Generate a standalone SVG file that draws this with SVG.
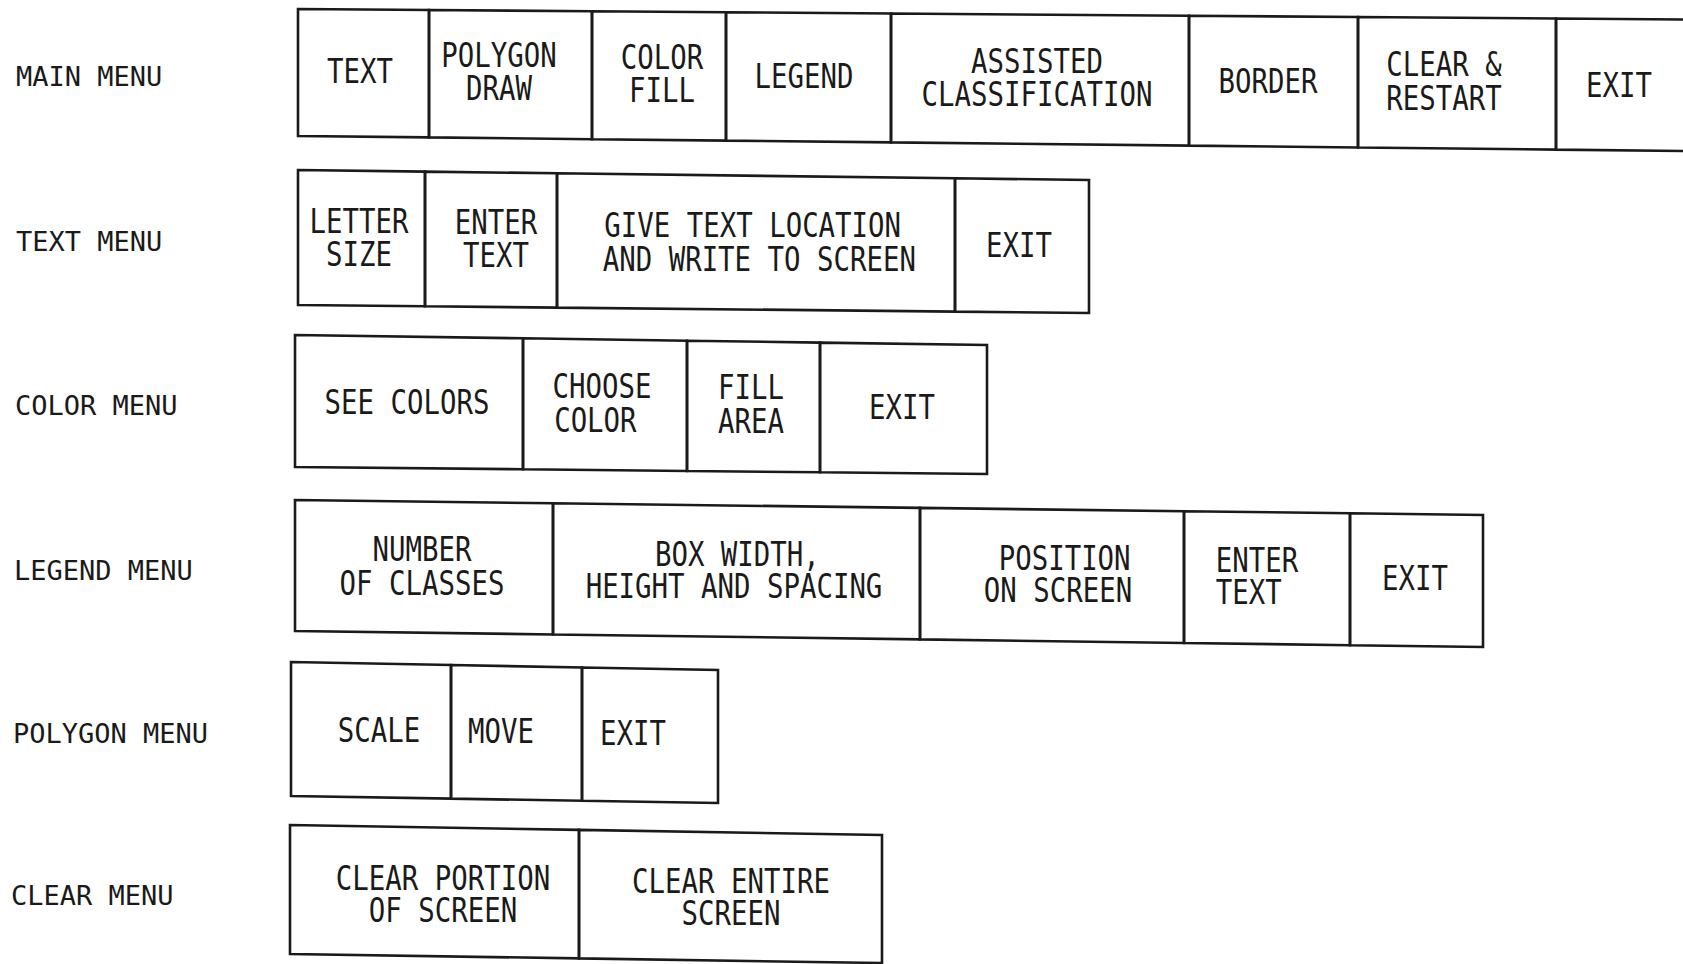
<svg xmlns="http://www.w3.org/2000/svg" width="1683" height="964" viewBox="0 0 1683 964">
<style>
.bg{fill:#ffffff}
.cell{fill:none;stroke:#1a1a1a;stroke-width:2.6;stroke-linejoin:miter}
.lbl{font-family:"DejaVu Sans Mono","Liberation Mono",monospace;font-size:27px;fill:#1a1a1a}
.t{font-family:"DejaVu Sans Mono","Liberation Mono",monospace;font-size:33px;fill:#1a1a1a;text-anchor:middle}
</style>
<rect class="bg" x="0" y="0" width="1683" height="964"/>

<g id="labels">
<text class="lbl" x="16" y="86">MAIN MENU</text>
<text class="lbl" x="16" y="251">TEXT MENU</text>
<text class="lbl" x="15" y="415">COLOR MENU</text>
<text class="lbl" x="14" y="580">LEGEND MENU</text>
<text class="lbl" x="13" y="743">POLYGON MENU</text>
<text class="lbl" x="11" y="905">CLEAR MENU</text>
</g>

<g id="main-menu">
<g id="main-text"><polygon class="cell" points="298,9 429,10 429,137.4 298,136"/>
<text class="t" transform="translate(360 83) scale(0.83 1)">TEXT</text></g>
<g id="main-polygon"><polygon class="cell" points="429,10 592,11.2 592,139.2 429,137.4"/>
<text class="t" transform="translate(499 67) scale(0.83 1)"><tspan x="0" y="0">POLYGON</tspan><tspan x="0" y="33">DRAW</tspan></text></g>
<g id="main-color"><polygon class="cell" points="592,11.2 726,12.2 726,140.6 592,139.2"/>
<text class="t" transform="translate(662 69) scale(0.83 1)"><tspan x="0" y="0">COLOR</tspan><tspan x="0" y="33">FILL</tspan></text></g>
<g id="main-legend"><polygon class="cell" points="726,12.2 891,13.5 891,142.4 726,140.6"/>
<text class="t" transform="translate(804 88) scale(0.83 1)">LEGEND</text></g>
<g id="main-assisted"><polygon class="cell" points="891,13.5 1189,15.8 1189,145.6 891,142.4"/>
<text class="t" transform="translate(1037 73) scale(0.83 1)"><tspan x="0" y="0">ASSISTED</tspan><tspan x="0" y="33">CLASSIFICATION</tspan></text></g>
<g id="main-border"><polygon class="cell" points="1189,15.8 1358,17 1358,147.5 1189,145.6"/>
<text class="t" transform="translate(1268 93) scale(0.83 1)">BORDER</text></g>
<g id="main-clear"><polygon class="cell" points="1358,17 1556,18.5 1556,149.6 1358,147.5"/>
<text class="t" transform="translate(1444 76) scale(0.83 1)"><tspan x="0" y="0">CLEAR &amp;</tspan><tspan x="0" y="34">RESTART</tspan></text></g>
<g id="main-exit"><polyline class="cell" points="1690,19.5 1556,18.5 1556,149.6 1690,151"/>
<text class="t" transform="translate(1619 97) scale(0.83 1)">EXIT</text></g>
</g>

<g id="text-menu">
<g id="text-size"><polygon class="cell" points="298,170 425,171.6 425,306.3 298,305"/>
<text class="t" transform="translate(359 233) scale(0.83 1)"><tspan x="0" y="0">LETTER</tspan><tspan x="0" y="33">SIZE</tspan></text></g>
<g id="text-enter"><polygon class="cell" points="425,171.6 557,173.3 557,307.6 425,306.3"/>
<text class="t" transform="translate(496 234) scale(0.83 1)"><tspan x="0" y="0">ENTER</tspan><tspan x="0" y="33">TEXT</tspan></text></g>
<g id="text-location"><polygon class="cell" points="557,173.3 955,178.3 955,311.6 557,307.6"/>
<text class="t" transform="translate(756 237) scale(0.83 1)"><tspan x="-4" y="0">GIVE TEXT LOCATION</tspan><tspan x="4" y="34">AND WRITE TO SCREEN</tspan></text></g>
<g id="text-exit"><polygon class="cell" points="955,178.3 1089,180 1089,313 955,311.6"/>
<text class="t" transform="translate(1019 257) scale(0.83 1)">EXIT</text></g>
</g>

<g id="color-menu">
<g id="color-see"><polygon class="cell" points="295,335 523,338.3 523,469.3 295,467"/>
<text class="t" transform="translate(407 414) scale(0.83 1)">SEE COLORS</text></g>
<g id="color-choose"><polygon class="cell" points="523,338.3 687,340.7 687,471 523,469.3"/>
<text class="t" transform="translate(602 398) scale(0.83 1)"><tspan x="0" y="0">CHOOSE</tspan><tspan x="-8" y="34">COLOR</tspan></text></g>
<g id="color-fill"><polygon class="cell" points="687,340.7 820,342.6 820,472.3 687,471"/>
<text class="t" transform="translate(751 399) scale(0.83 1)"><tspan x="0" y="0">FILL</tspan><tspan x="0" y="34">AREA</tspan></text></g>
<g id="color-exit"><polygon class="cell" points="820,342.6 987,345 987,474 820,472.3"/>
<text class="t" transform="translate(902 419) scale(0.83 1)">EXIT</text></g>
</g>

<g id="legend-menu">
<g id="legend-number"><polygon class="cell" points="295,500 553,503.3 553,634.5 295,631"/>
<text class="t" transform="translate(422 561) scale(0.83 1)"><tspan x="0" y="0">NUMBER</tspan><tspan x="0" y="34">OF CLASSES</tspan></text></g>
<g id="legend-box"><polygon class="cell" points="553,503.3 920,507.9 920,639.4 553,634.5"/>
<text class="t" transform="translate(734 566) scale(0.83 1)"><tspan x="4" y="0">BOX WIDTH,</tspan><tspan x="0" y="32">HEIGHT AND SPACING</tspan></text></g>
<g id="legend-position"><polygon class="cell" points="920,507.9 1184,511.2 1184,643 920,639.4"/>
<text class="t" transform="translate(1058 570) scale(0.83 1)"><tspan x="8" y="0">POSITION</tspan><tspan x="0" y="32">ON SCREEN</tspan></text></g>
<g id="legend-enter"><polygon class="cell" points="1184,511.2 1350,513.3 1350,645.2 1184,643"/>
<text class="t" transform="translate(1257 572) scale(0.83 1)"><tspan x="0" y="0">ENTER</tspan><tspan x="-10" y="32">TEXT</tspan></text></g>
<g id="legend-exit"><polygon class="cell" points="1350,513.3 1483,515 1483,647 1350,645.2"/>
<text class="t" transform="translate(1415 590) scale(0.83 1)">EXIT</text></g>
</g>

<g id="polygon-menu">
<g id="polygon-scale"><polygon class="cell" points="291,662 451,665 451,798.6 291,796"/>
<text class="t" transform="translate(379 742) scale(0.83 1)">SCALE</text></g>
<g id="polygon-move"><polygon class="cell" points="451,665 582,667.5 582,800.8 451,798.6"/>
<text class="t" transform="translate(501 743) scale(0.83 1)">MOVE</text></g>
<g id="polygon-exit"><polygon class="cell" points="582,667.5 718,670 718,803 582,800.8"/>
<text class="t" transform="translate(633 745) scale(0.83 1)">EXIT</text></g>
</g>

<g id="clear-menu">
<g id="clear-portion"><polygon class="cell" points="290,825 579,829.9 579,958.4 290,954"/>
<text class="t" transform="translate(443 890) scale(0.83 1)"><tspan x="0" y="0">CLEAR PORTION</tspan><tspan x="0" y="32">OF SCREEN</tspan></text></g>
<g id="clear-entire"><polygon class="cell" points="579,829.9 882,835 882,963 579,958.4"/>
<text class="t" transform="translate(731 893) scale(0.83 1)"><tspan x="0" y="0">CLEAR ENTIRE</tspan><tspan x="0" y="32">SCREEN</tspan></text></g>
</g>

<g id="connectors"/>
</svg>
